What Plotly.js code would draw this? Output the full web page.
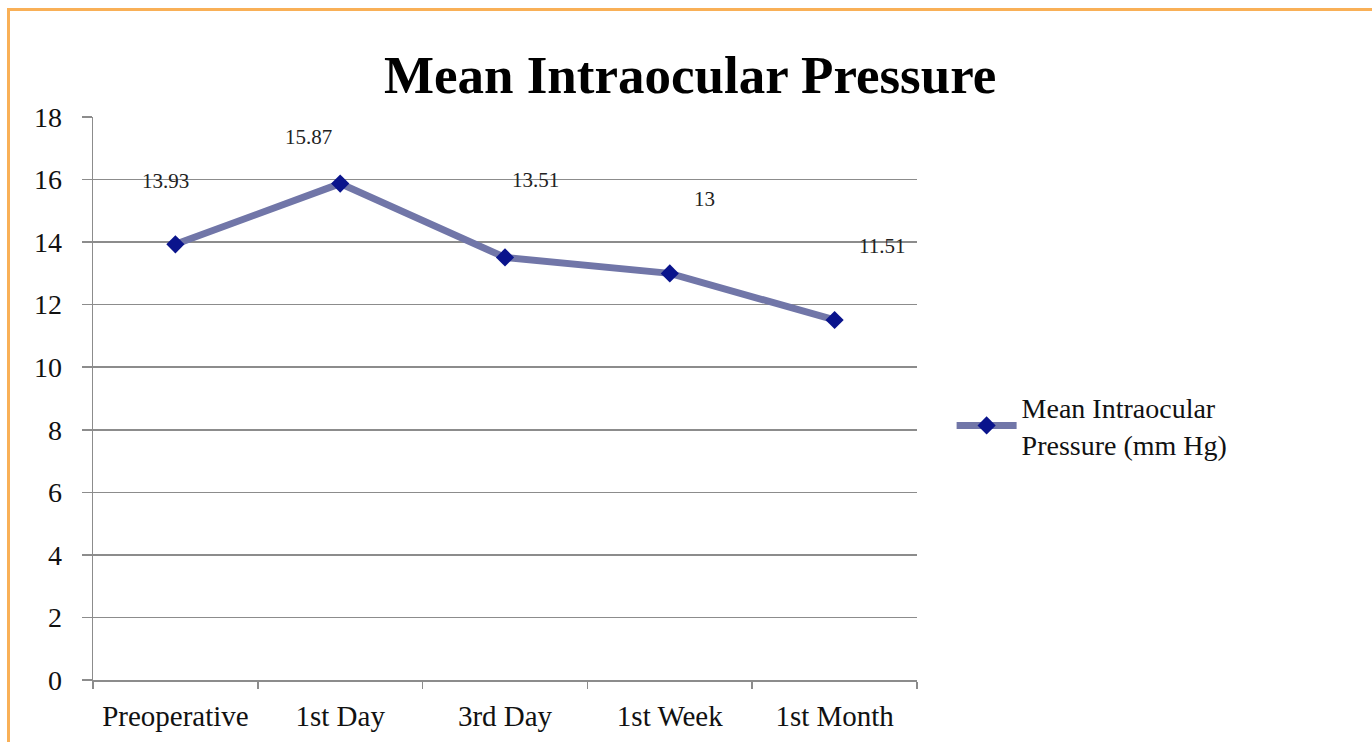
<!DOCTYPE html>
<html>
<head>
<meta charset="utf-8">
<script src="https://cdn.plot.ly/plotly-3.0.1.min.js"></script>
<style>
html, body { margin: 0; padding: 0; background: #fff; }
#chart { position: absolute; left: 0; top: 0; width: 1372px; height: 742px; }
#frame { position: absolute; left: 7px; top: 8px; width: 1365px; height: 734px;
         border-top: 3px solid #f9b057; border-left: 3px solid #f9b057; pointer-events: none; box-sizing: border-box; }
</style>
</head>
<body>
<div id="chart"></div>
<div id="frame"></div>
<script>
const categories = ["Preoperative", "1st Day", "3rd Day", "1st Week", "1st Month"];
const iopValues = [13.93, 15.87, 13.51, 13, 11.51];
const valueLabels = ["13.93", "15.87", "13.51", "13", "11.51"];
const seriesName = "Mean Intraocular<br>Pressure (mm Hg)";
const yTicks = [0, 2, 4, 6, 8, 10, 12, 14, 16, 18];

const labelXShift = [-10, -32, 30, 35, 47];
const labelYShift = [63, 47, 77, 74, 74];

const serif = "Liberation Serif, Times New Roman, serif";

const trace = {
  x: categories,
  y: iopValues,
  type: "scatter",
  mode: "lines+markers",
  name: seriesName,
  line: { color: "#7176a8", width: 7 },
  marker: { symbol: "diamond", color: "#0a148c", size: 14 }
};

const annotations = categories.map((c, i) => ({
  x: c, y: iopValues[i], xref: "x", yref: "y",
  text: valueLabels[i], showarrow: false,
  xshift: labelXShift[i], yshift: labelYShift[i],
  font: { family: serif, size: 21, color: "#222" }
}));

const layout = {
  width: 1372, height: 742,
  margin: { l: 93, r: 455, t: 117, b: 62 },
  paper_bgcolor: "rgba(0,0,0,0)",
  plot_bgcolor: "rgba(0,0,0,0)",
  font: { family: serif, color: "#111" },
  title: {
    text: "<b>Mean Intraocular Pressure</b>",
    font: { family: serif, size: 53, color: "#000" },
    xref: "container", x: 0.503, yref: "container", y: 0.9, yanchor: "middle"
  },
  xaxis: {
    type: "category",
    range: [-0.5, 4.5],
    tickson: "boundaries",
    ticks: "outside", ticklen: 7, tickcolor: "#8c8c8c", tickwidth: 1.5,
    showline: true, linecolor: "#8c8c8c", linewidth: 1.5,
    showgrid: false, zeroline: false,
    tickfont: { family: serif, size: 29, color: "#111" },
    ticklabelstandoff: 10,
    fixedrange: true
  },
  yaxis: {
    range: [0, 18],
    tickvals: yTicks,
    ticks: "outside", ticklen: 10, tickcolor: "#8c8c8c", tickwidth: 1.5,
    showline: true, linecolor: "#8c8c8c", linewidth: 1.5,
    showgrid: true, gridcolor: "#8c8c8c", gridwidth: 1.5,
    zeroline: false,
    tickfont: { family: serif, size: 28, color: "#111" },
    ticklabelstandoff: 14,
    fixedrange: true
  },
  showlegend: true,
  legend: {
    x: 1.042, xanchor: "left", y: 0.452, yanchor: "middle",
    font: { family: serif, size: 28, color: "#111" },
    bgcolor: "rgba(0,0,0,0)",
    itemwidth: 60,
    tracegroupgap: 0
  },
  annotations: annotations
};

Plotly.newPlot("chart", [trace], layout, { displayModeBar: false, staticPlot: true });
</script>
</body>
</html>
